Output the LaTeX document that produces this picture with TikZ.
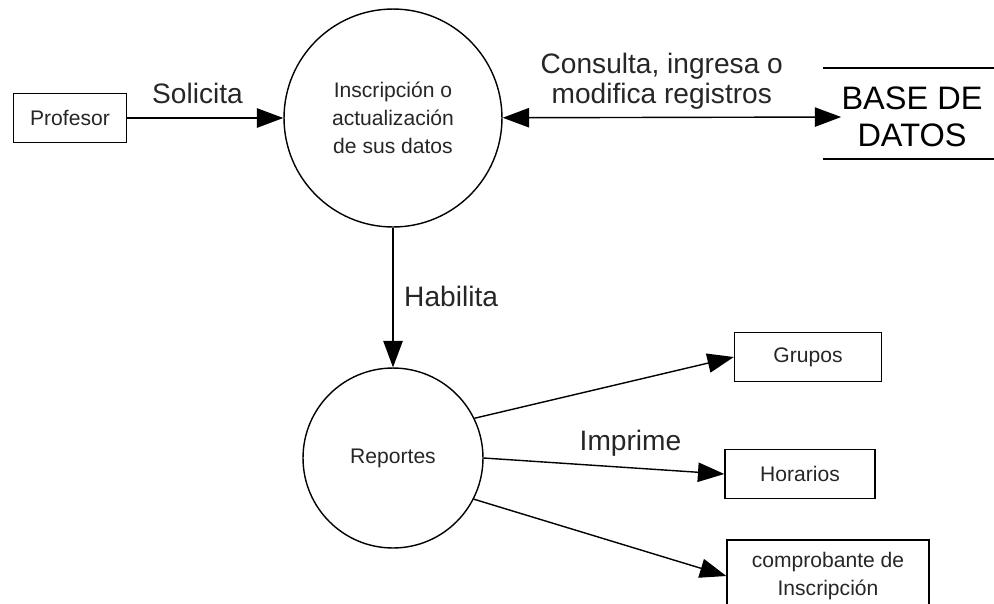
\documentclass[tikz,border=0pt]{standalone}
\usepackage{fontspec}
\setmainfont{Liberation Sans}
\usetikzlibrary{arrows.meta,positioning}

\begin{document}
\begin{tikzpicture}[x=0.02cm,y=-0.02cm]

\tikzstyle{dfdproc} = [circle,draw=black,line width=0.8pt,inner sep=0,align=center,text=black!85,font=\fontsize{12}{16}\selectfont]%
\tikzstyle{dfdent} = [rectangle,draw=black,line width=0.8pt,inner sep=0,minimum height=0.98cm,align=center,text=black!85,font=\fontsize{12}{15.5}\selectfont]%
\tikzstyle{dfdstore} = [inner sep=0,align=center,font=\fontsize{18.5}{21}\selectfont]%
\tikzstyle{dfdarc} = [line width=0.8pt,-{Triangle[length=15pt,width=11pt]}]%
\tikzstyle{lbl} = [inner sep=0,align=center,text=black!85,font=\fontsize{16}{17}\selectfont]%

\clip (0,0) rectangle (994,603);

\node[dfdent,minimum width=2.26cm] (prof) at (70,118) {Profesor};
\node[dfdproc,minimum size=4.36cm] (insc) at (393,118) {Inscripción o\\actualización\\de sus datos};
\node[dfdstore] (db) at (912,117) {BASE DE\\DATOS};
\node[dfdproc,minimum size=3.6cm] (rep) at (393,458) {Reportes};

\node[dfdent,minimum width=2.94cm] (grp) at (808,357) {Grupos};
\node[dfdent,minimum width=3cm] (hor) at (800,474) {Horarios};
\node[dfdent,minimum width=4.04cm,minimum height=1.44cm] (comp) at (828,576) {comprobante de\\Inscripción};

% almacen de datos
\draw[line width=0.8pt] (823,68) -- (994,68);
\draw[line width=0.8pt] (823,159) -- (994,159);

\draw[dfdarc] (prof) --
    node[lbl,pos=0.45,anchor=base,yshift=8.5pt] {Solicita}
    (insc);

\draw[dfdarc,{Triangle[length=15pt,width=11pt]}-{Triangle[length=15pt,width=11pt]}] (insc) --
    node[lbl,pos=0.47,anchor=south,yshift=4pt] {Consulta, ingresa o\\modifica registros}
    (db.west);

\draw[dfdarc] (insc) --
    node[lbl,pos=0.49,anchor=west,xshift=6pt] {Habilita}
    (rep);

\draw[dfdarc] (rep.26) -- (grp.west);
\draw[dfdarc] (rep.east) --
    node[lbl,pos=0.61,anchor=base,yshift=10pt] {Imprime}
    (hor.west);
\draw[dfdarc] (rep.-27) -- (comp.west);

\end{tikzpicture}
\end{document}
